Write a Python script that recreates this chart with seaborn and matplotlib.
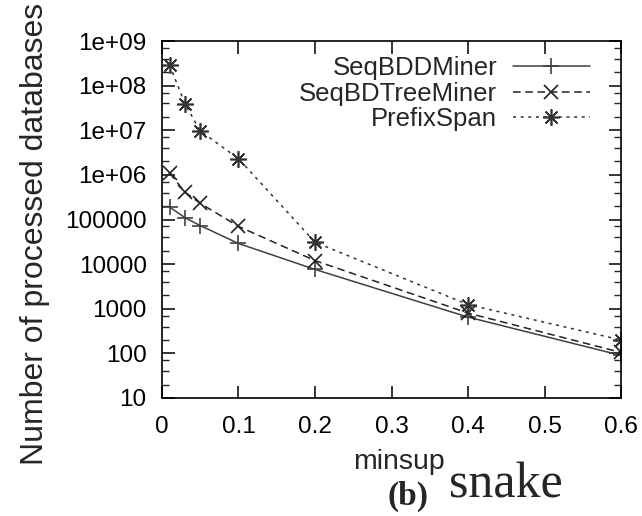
import matplotlib
matplotlib.use("Agg")
import matplotlib.pyplot as plt
import matplotlib.ticker as mticker
import numpy as np
import pandas as pd
import seaborn as sns

minsup = [0.01, 0.03, 0.05, 0.1, 0.2, 0.4, 0.6]
seqbddminer = [1.9e5, 1.1e5, 7.3e4, 2.9e4, 7.6e3, 650, 90]
seqbdtreeminer = [1.1e6, 4.1e5, 2.3e5, 7.0e4, 1.2e4, 800, 105]
prefixspan = [2.9e8, 3.9e7, 9.7e6, 2.3e6, 3.1e4, 1.24e3, 200]
series_names = ["SeqBDDMiner", "SeqBDTreeMiner", "PrefixSpan"]
xticks = [0, 0.1, 0.2, 0.3, 0.4, 0.5, 0.6]
xtick_labels = ["0", "0.1", "0.2", "0.3", "0.4", "0.5", "0.6"]
yticks = [10, 100, 1000, 10000, 100000, 1e6, 1e7, 1e8, 1e9]
ytick_labels = ["10", "100", "1000", "10000", "100000", "1e+06", "1e+07", "1e+08", "1e+09"]

df = pd.DataFrame({
    "minsup": minsup * 3,
    "value": seqbddminer + seqbdtreeminer + prefixspan,
    "series": sum([[n] * len(minsup) for n in series_names], []),
})

sns.set_theme(style="ticks")
plt.rcParams["font.family"] = ["Liberation Sans", "DejaVu Sans"]

fig = plt.figure(figsize=(6.42, 5.16), dpi=100)
ax = fig.add_axes([162 / 642, 1 - 398 / 516, (621 - 162) / 642, (398 - 41) / 516])

styles = {
    "SeqBDDMiner": dict(color="#404040", marker="+", linestyle="-", markersize=11, mew=1.2),
    "SeqBDTreeMiner": dict(color="#222222", marker="x", linestyle=(0, (5, 3)), markersize=10, mew=1.2),
    "PrefixSpan": dict(color="#333333", marker=(8, 2, 0), linestyle=(0, (2, 3)), markersize=12, mew=1.2),
}
for name in series_names:
    sub = df[df["series"] == name]
    st = styles[name]
    sns.lineplot(data=sub, x="minsup", y="value", ax=ax, label=name,
                 color=st["color"], marker=st["marker"], linestyle=st["linestyle"],
                 markersize=st["markersize"], markeredgewidth=st["mew"],
                 markeredgecolor=st["color"], linewidth=1.1)

ax.set_yscale("log")
ax.set_xlim(0, 0.6)
ax.set_ylim(10, 1e9)
ax.set_xticks(xticks)
ax.set_xticklabels(xtick_labels)
ax.set_yticks(yticks)
ax.set_yticklabels(ytick_labels)
ax.yaxis.set_minor_locator(mticker.LogLocator(base=10, subs=(2, 4, 7), numticks=50))
ax.yaxis.set_minor_formatter(mticker.NullFormatter())

ax.tick_params(axis="both", which="major", direction="in", length=9, width=1.1,
               top=True, right=True, labelsize=17.5, colors="black")
ax.tick_params(axis="y", which="major", pad=11)
ax.tick_params(axis="x", which="major", pad=13)
ax.tick_params(axis="y", which="minor", direction="in", length=5, width=1.0, right=True, left=True)
ax.tick_params(axis="x", which="minor", bottom=False, top=False)
for sp in ax.spines.values():
    sp.set_visible(True)
    sp.set_linewidth(1.2)
    sp.set_color("black")

ax.set_xlabel("minsup", fontsize=20.5)
ax.xaxis.set_label_coords((399 - 162) / 459, (398 - 449) / 357)
ax.set_ylabel("Number of processed databases", fontsize=23)
ax.yaxis.set_label_coords((50 - 162) / 459, (398 - 234) / 357)

leg = ax.legend(loc="upper right", bbox_to_anchor=((600 - 162) / 459, (398 - 46) / 357),
                frameon=False, markerfirst=False, fontsize=18.5,
                handlelength=3.0, handletextpad=0.6, labelspacing=0.05,
                borderaxespad=0.0)

fig.text(408 / 642, 1 - 505 / 516, "(b)", fontsize=24, fontweight="bold",
         family="Liberation Serif", ha="center", va="baseline")
fig.text(449 / 642, 1 - 498 / 516, "snake", fontsize=36,
         family="Liberation Serif", ha="left", va="baseline")

fig.savefig("out.png", dpi=100)
